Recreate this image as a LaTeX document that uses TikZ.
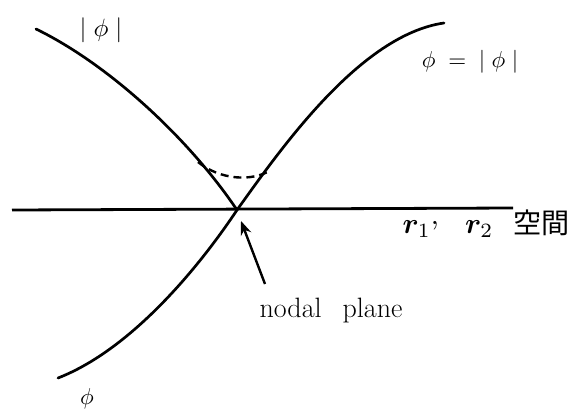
\documentclass[tikz,border=0pt]{standalone}
\usepackage{fontspec}
\usepackage{bm}
\newfontfamily\cjk{Noto Sans CJK JP}
\usetikzlibrary{arrows.meta}
\tikzset{
  curve/.style={line width=2.7pt, line cap=round},
  axisline/.style={line width=2.8pt},
  dashcurve/.style={line width=2.4pt, dash pattern=on 8pt off 5pt},
  pointer/.style={line width=2.4pt, -{Stealth[length=14pt,width=11pt]}},
  lbl/.style={inner sep=0pt},
}
\begin{document}
\begin{tikzpicture}[x=1pt,y=-1pt]
\useasboundingbox (0,0) rectangle (570,410);
\coordinate (tl) at (36,29);
\coordinate (nodept) at (237,210);
\coordinate (bl) at (58,378);
\coordinate (tr) at (444,23);
\coordinate (hl) at (12,210);
\coordinate (hr) at (513,208);
\coordinate (dl) at (198,162);
\coordinate (dr) at (271,170);
\coordinate (atail) at (265,284);
\coordinate (atip) at (241,221);
\draw[axisline] (hl) -- (hr);
\draw[curve] (tl) .. controls (110,65) and (190,140) .. (nodept);
\draw[curve] (bl) .. controls (130,350) and (197,270) .. (nodept)
  .. controls (280,150) and (360,35) .. (tr);
\draw[dashcurve] (dl) .. controls (220,180) and (252,182) .. (dr);
\draw[pointer] (atail) -- (atip);
\node[lbl, scale=2.5] (absphi) at (101,30) {$|\;\phi\;|$};
\node[lbl, scale=2.3] (eqlbl) at (470,62) {$\phi\;=\;|\;\phi\;|$};
\node[lbl, scale=2.3] (philbl) at (87,399) {$\phi$};
\node[lbl, scale=2.9, anchor=base west] (spacelbl) at (402,233) {$\bm{r}_1$\raisebox{0.3em}{,}\hspace{9pt}$\bm{r}_2$\hspace{7pt}{\fontsize{9.7}{11}\selectfont\cjk 空間}};
\node[lbl] (nplbl) at (331,311) {\fontsize{28}{31}\selectfont nodal\hspace{0.75em}plane};
\end{tikzpicture}
\end{document}
